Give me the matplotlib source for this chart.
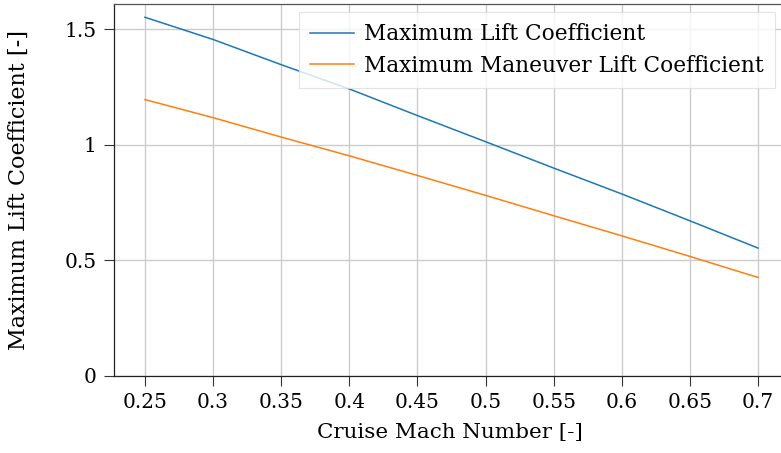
import matplotlib.pyplot as plt

# Lift coefficient limits over the cruise Mach sweep
mach = [0.25, 0.30, 0.35, 0.40, 0.45, 0.50, 0.55, 0.60, 0.65, 0.70]
cl_max = [1.551, 1.455, 1.346, 1.241, 1.126, 1.013, 0.899, 0.787, 0.671, 0.553]
cl_max_maneuver = [1.195, 1.117, 1.033, 0.952, 0.867, 0.781, 0.693, 0.606, 0.517, 0.426]

xticks = [0.25, 0.3, 0.35, 0.4, 0.45, 0.5, 0.55, 0.6, 0.65, 0.7]
xtick_labels = ["0.25", "0.3", "0.35", "0.4", "0.45", "0.5", "0.55", "0.6", "0.65", "0.7"]
yticks = [0, 0.5, 1, 1.5]
ytick_labels = ["0", "0.5", "1", "1.5"]

plt.rcParams["font.family"] = "DejaVu Serif"
plt.rcParams["font.size"] = 14.5

fig = plt.figure(figsize=(7.81, 4.53), dpi=100)
ax = fig.add_axes([0.146, 0.170, 0.86, 0.821])

ax.plot(mach, cl_max, color="#1f77b4", linewidth=1.1, label="Maximum Lift Coefficient")
ax.plot(mach, cl_max_maneuver, color="#ff7f0e", linewidth=1.1,
        label="Maximum Maneuver Lift Coefficient")

ax.set_xlim(0.2273, 0.7203)
ax.set_ylim(0, 1.608)
ax.set_xticks(xticks)
ax.set_xticklabels(xtick_labels)
ax.set_yticks(yticks)
ax.set_yticklabels(ytick_labels)

ax.grid(True, color="#cccccc", linewidth=1.0)
ax.set_axisbelow(True)
ax.tick_params(direction="out", length=7.5, width=0.8, color="#333333", pad=5)

for side in ["left", "bottom"]:
    ax.spines[side].set_color("#222222")
    ax.spines[side].set_linewidth(0.9)
ax.spines["top"].set_color("#555555")
ax.spines["top"].set_linewidth(0.9)
ax.spines["right"].set_visible(False)

ax.set_xlabel("Cruise Mach Number [-]", fontsize=15.4, labelpad=8)
ax.set_ylabel("Maximum Lift Coefficient [-]", fontsize=16, labelpad=25)

leg = ax.legend(loc="upper right", bbox_to_anchor=(0.984, 0.978), borderaxespad=0,
                fontsize=15.6, fancybox=False, framealpha=0.8, edgecolor="#dddddd",
                handlelength=2.0, handletextpad=0.5, borderpad=0.5,
                labelspacing=0.45)
leg.get_frame().set_linewidth(0.8)

fig.savefig("out.png", dpi=100)
